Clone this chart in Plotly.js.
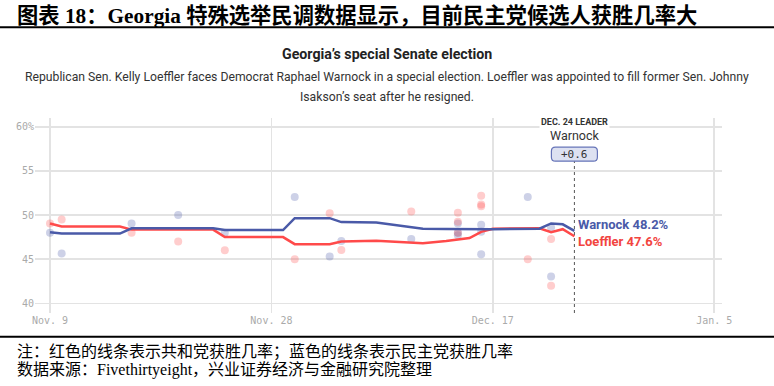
<!DOCTYPE html>
<html>
<head>
<meta charset="utf-8">
<script src="https://cdn.plot.ly/plotly-3.0.1.min.js"></script>
<style>
html,body{margin:0;padding:0;background:#fff;}
#chart{width:774px;height:386px;}
</style>
</head>
<body>
<div id="chart"></div>
<script>
// ---- data ----
const lineDates = ['2020-11-09','2020-11-10','2020-11-15','2020-11-16','2020-11-23','2020-11-24','2020-11-29','2020-11-30','2020-12-03','2020-12-04','2020-12-07','2020-12-11','2020-12-13','2020-12-15','2020-12-16','2020-12-17','2020-12-21','2020-12-22','2020-12-23','2020-12-24'];
const loefflerAvg = [49.05,48.7,48.7,48.35,48.35,47.5,47.5,46.7,46.7,47.0,47.1,46.8,47.05,47.4,48.1,48.45,48.5,48.05,48.4,47.6];
const warnockAvg  = [48.05,47.9,47.9,48.5,48.5,48.3,48.3,49.65,49.65,49.2,49.15,48.45,48.42,48.4,48.45,48.4,48.45,49.05,48.95,48.2];

const pollDates = ['2020-11-09','2020-11-10','2020-11-16','2020-11-20','2020-11-24','2020-11-30','2020-12-03','2020-12-04','2020-12-10','2020-12-14','2020-12-14','2020-12-14','2020-12-16','2020-12-16','2020-12-16','2020-12-20','2020-12-22','2020-12-22'];
const loefflerPolls = [49.05,49.5,48.0,47.0,46.0,45.0,50.2,46.05,50.4,50.25,49.25,48.0,52.2,51.2,51.0,45.0,47.3,42.0];
const warnockPolls  = [48.0,45.65,49.05,50.0,48.0,52.05,45.3,47.05,47.3,49.05,48.0,47.7,48.9,48.1,45.55,52.05,48.6,43.05];

const xTickVals = ['2020-11-09','2020-11-28','2020-12-17','2021-01-05'];
const xTickText = ['Nov. 9','Nov. 28','Dec. 17','Jan. 5'];
const yTickVals = [40,45,50,55,60];
const yTickText = ['40','45','50','55','60%'];

const leaderDate = '2020-12-24';
const leaderLabel = 'DEC. 24 LEADER';
const leaderName = 'Warnock';
const leaderMargin = '+0.6';

const pageTitle = '图表 18：Georgia 特殊选举民调数据显示，目前民主党候选人获胜几率大';
const chartTitle = 'Georgia’s special Senate election';
const subtitle1 = 'Republican Sen. Kelly Loeffler faces Democrat Raphael Warnock in a special election. Loeffler was appointed to fill former Sen. Johnny';
const subtitle2 = 'Isakson’s seat after he resigned.';
const noteText = '注：红色的线条表示共和党获胜几率；蓝色的线条表示民主党获胜几率';
const sourceText = '数据来源：Fivethirtyeight，兴业证券经济与金融研究院整理';

// ---- styles ----
const BLUE = '#4a5aa8';
const RED = '#ff4a4a';
const SANS = 'Roboto, "Noto Sans", sans-serif';
const MONO = '"DejaVu Sans Mono", monospace';
const CJK = '"Liberation Serif", "Noto Sans CJK SC", serif';

const traces = [
  {x: pollDates, y: warnockPolls, type: 'scatter', mode: 'markers',
   marker: {size: 8, color: 'rgba(74,90,168,0.28)'}, hoverinfo: 'skip'},
  {x: pollDates, y: loefflerPolls, type: 'scatter', mode: 'markers',
   marker: {size: 8, color: 'rgba(255,74,74,0.28)'}, hoverinfo: 'skip'},
  {x: lineDates, y: loefflerAvg, type: 'scatter', mode: 'lines',
   line: {color: RED, width: 2.5}, hoverinfo: 'skip'},
  {x: lineDates, y: warnockAvg, type: 'scatter', mode: 'lines',
   line: {color: BLUE, width: 2.5}, hoverinfo: 'skip'}
];

const lastW = warnockAvg[warnockAvg.length-1];
const lastL = loefflerAvg[loefflerAvg.length-1];

const layout = {
  width: 774, height: 386,
  margin: {l: 35, r: 52, t: 118, b: 73},
  paper_bgcolor: '#fff', plot_bgcolor: '#fff',
  showlegend: false,
  xaxis: {
    type: 'date',
    range: ['2020-11-07 17:05', '2021-01-05 16:00'],
    tickvals: xTickVals, ticktext: xTickText,
    showgrid: true, gridcolor: '#e3e3e3', gridwidth: 1.5,
    zeroline: false, showline: false, ticks: '',
    tickfont: {family: MONO, size: 10, color: '#aaaaaa'}
  },
  yaxis: {
    range: [38.9, 61.0],
    tickvals: yTickVals, ticktext: yTickText,
    showgrid: true, gridcolor: '#e3e3e3', gridwidth: 1.5,
    zeroline: false, showline: false, ticks: '',
    tickfont: {family: MONO, size: 10, color: '#aaaaaa'}
  },
  shapes: [
    {type: 'line', xref: 'paper', yref: 'paper', x0: -0.051, x1: 1.076, y0: 1.465, y1: 1.465,
     line: {color: '#000', width: 2}},
    {type: 'line', xref: 'paper', yref: 'paper', x0: -0.051, x1: 1.076, y0: -0.1215, y1: -0.1215,
     line: {color: '#000', width: 2}},
    {type: 'line', xref: 'x', yref: 'paper', x0: leaderDate, x1: leaderDate, y0: 0, y1: 0.78,
     line: {color: '#555', width: 1, dash: 'dot'}},
    {type: 'path', xref: 'x', yref: 'y', xsizemode: 'pixel', ysizemode: 'pixel',
     xanchor: leaderDate, yanchor: 56.9,
     path: 'M -19 -7 L 19 -7 Q 23 -7 23 -3 L 23 3 Q 23 7 19 7 L -19 7 Q -23 7 -23 3 L -23 -3 Q -23 -7 -19 -7 Z',
     fillcolor: '#dde1f1', line: {color: '#6674b8', width: 1.2}}
  ],
  annotations: [
    {xref: 'paper', yref: 'paper', x: -0.029, y: 1.525, xanchor: 'left', yanchor: 'middle', showarrow: false,
     text: '<b>' + pageTitle + '</b>',
     font: {family: CJK, size: 21.3, color: '#000'}},
    {xref: 'paper', yref: 'paper', x: 0.5124, y: 1.328, xanchor: 'center', yanchor: 'middle', showarrow: false,
     text: '<b>' + chartTitle + '</b>', font: {family: SANS, size: 14.2, color: '#222'}},
    {xref: 'paper', yref: 'paper', x: 0.5124, y: 1.2087, xanchor: 'center', yanchor: 'middle', showarrow: false,
     text: subtitle1, font: {family: SANS, size: 12.2, color: '#333'}},
    {xref: 'paper', yref: 'paper', x: 0.5124, y: 1.106, xanchor: 'center', yanchor: 'middle', showarrow: false,
     text: subtitle2, font: {family: SANS, size: 12.2, color: '#333'}},
    {xref: 'paper', yref: 'paper', x: -0.029, y: -0.1985, xanchor: 'left', yanchor: 'middle', showarrow: false,
     text: noteText, font: {family: CJK, size: 16, color: '#000'}},
    {xref: 'paper', yref: 'paper', x: -0.029, y: -0.2923, xanchor: 'left', yanchor: 'middle', showarrow: false,
     text: sourceText, font: {family: CJK, size: 16, color: '#000'}},
    {xref: 'x', yref: 'paper', x: leaderDate, y: 0.979, xanchor: 'center', yanchor: 'middle', showarrow: false,
     text: '<b>' + leaderLabel + '</b>', bgcolor: '#fff', borderpad: 1,
     font: {family: SANS, size: 9, color: '#333'}},
    {xref: 'x', yref: 'paper', x: leaderDate, y: 0.9128, xanchor: 'center', yanchor: 'middle', showarrow: false,
     text: leaderName, font: {family: SANS, size: 12.5, color: '#333'}},
    {xref: 'x', yref: 'y', x: leaderDate, y: 56.9, xanchor: 'center', yanchor: 'middle', showarrow: false,
     text: leaderMargin, font: {family: MONO, size: 11, color: '#333'}},
    {xref: 'x', yref: 'y', x: leaderDate, y: 48.98, xanchor: 'left', yanchor: 'middle', showarrow: false, xshift: 2,
     text: '<b>Warnock ' + lastW.toFixed(1) + '%</b>', font: {family: SANS, size: 13, color: BLUE}},
    {xref: 'x', yref: 'y', x: leaderDate, y: 47.06, xanchor: 'left', yanchor: 'middle', showarrow: false, xshift: 2,
     text: '<b>Loeffler ' + lastL.toFixed(1) + '%</b>', font: {family: SANS, size: 13, color: '#f2453f'}}
  ]
};

Plotly.newPlot('chart', traces, layout, {staticPlot: true, displayModeBar: false});
</script>
</body>
</html>
